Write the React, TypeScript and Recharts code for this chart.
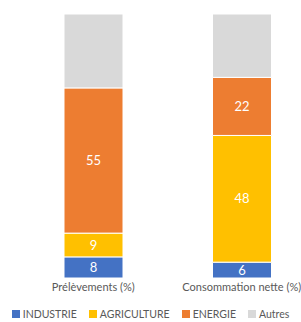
import React from 'react';
import { BarChart, Bar, XAxis, YAxis, Legend, LabelList } from 'recharts';

const categories = ['Prélèvements (%)', 'Consommation nette (%)'];
const industrie = [8, 6];
const agriculture = [9, 48];
const energie = [55, 22];
const autres = [28, 24];

const seriesNames = ['INDUSTRIE', 'AGRICULTURE', 'ENERGIE', 'Autres'];
const seriesColors = ['#4472C4', '#FFC000', '#ED7D31', '#D9D9D9'];

const data = categories.map((c, i) => ({
  name: c,
  INDUSTRIE: industrie[i],
  AGRICULTURE: agriculture[i],
  ENERGIE: energie[i],
  Autres: autres[i],
}));

const FONT = 'Lato, "Open Sans", sans-serif';

const LegendContent = () => (
  <div style={{ display: 'flex', justifyContent: 'center', fontFamily: FONT, fontSize: 10.5, color: '#595959', gap: 12 }}>
    {seriesNames.map((n, i) => (
      <div key={n} style={{ display: 'flex', alignItems: 'center' }}>
        <span style={{ display: 'inline-block', width: 8, height: 8, background: seriesColors[i], marginRight: 3 }} />
        <span>{n}</span>
      </div>
    ))}
  </div>
);

export default function App() {
  return (
    <div style={{ position: 'absolute', left: 0, top: 0, width: 301, height: 322, overflow: 'hidden', background: '#fff' }}>
      <BarChart width={320} height={322} data={data} margin={{ top: 14, left: 19, right: 4, bottom: 12 }}>
        <XAxis dataKey="name" axisLine={false} tickLine={false} tickSize={0} tickMargin={5} height={20}
          tick={{ fill: '#595959', fontSize: 11, fontFamily: FONT }} interval={0} />
        <YAxis hide domain={[0, 100]} />
        <Legend verticalAlign="bottom" content={<LegendContent />}
          wrapperStyle={{ position: 'absolute', left: 0, width: 301, top: 308 }} />
        {seriesNames.map((n, i) => (
          <Bar key={n} dataKey={n} stackId="a" fill={seriesColors[i]} barSize={59} stroke="#fff" strokeWidth={1} isAnimationActive={false}>
            {i < 3 && <LabelList dataKey={n} position="center" fill="#fff" fontSize={13} fontFamily={FONT} />}
          </Bar>
        ))}
      </BarChart>
    </div>
  );
}
